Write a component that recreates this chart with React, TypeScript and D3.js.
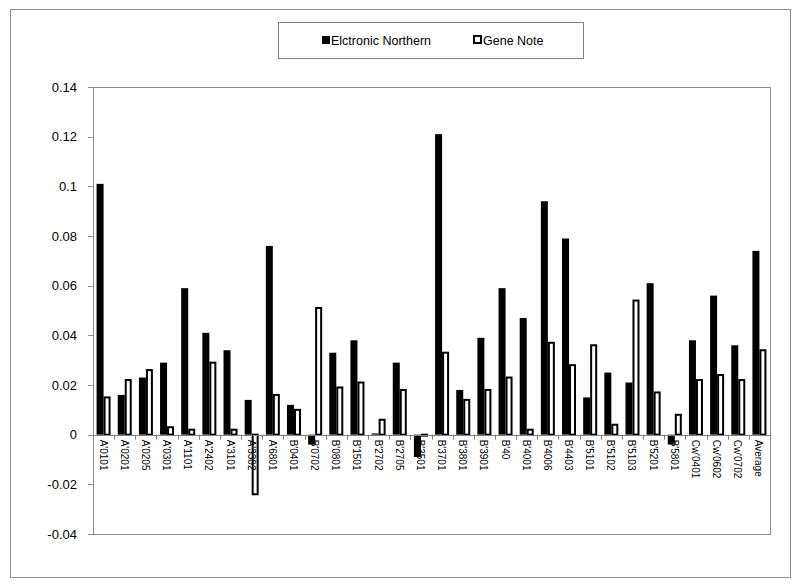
import React from 'react';
import * as d3 from 'd3';

// categories and values
const alleles = [
  "A'0101", "A'0201", "A'0205", "A'0301", "A'1101", "A'2402", "A'3101", "A'3302",
  "A'6801", "B'0401", "B'0702", "B'0801", "B'1501", "B'2702", "B'2705", "B'3501",
  "B'3701", "B'3801", "B'3901", "B'40", "B'4001", "B'4006", "B'4403", "B'5101",
  "B'5102", "B'5103", "B'5201", "B'5801", "Cw'0401", "Cw'0602", "Cw'0702", "Average",
];
const electronicNorthern = [
  0.101, 0.016, 0.023, 0.029, 0.059, 0.041, 0.034, 0.014,
  0.076, 0.012, -0.004, 0.033, 0.038, 0.0005, 0.029, -0.009,
  0.121, 0.018, 0.039, 0.059, 0.047, 0.094, 0.079, 0.015,
  0.025, 0.021, 0.061, -0.004, 0.038, 0.056, 0.036, 0.074,
];
const geneNote = [
  0.015, 0.022, 0.026, 0.003, 0.002, 0.029, 0.002, -0.024,
  0.016, 0.010, 0.051, 0.019, 0.021, 0.006, 0.018, -0.0004,
  0.033, 0.014, 0.018, 0.023, 0.002, 0.037, 0.028, 0.036,
  0.004, 0.054, 0.017, 0.008, 0.022, 0.024, 0.022, 0.034,
];
const yTicks = [-0.04, -0.02, 0, 0.02, 0.04, 0.06, 0.08, 0.1, 0.12, 0.14];

const font = 'Liberation Sans, Arial, sans-serif';

const App = () => {
  const plot = { left: 93, right: 770, top: 87, bottom: 534 };

  const x = d3.scaleBand<string>()
    .domain(alleles)
    .range([plot.left, plot.right]);
  const y = d3.scaleLinear()
    .domain([-0.04, 0.14])
    .range([plot.bottom, plot.top]);

  const bw = 7;
  const y0 = y(0);

  return (
    <svg width={800} height={585} style={{ position: 'absolute', left: 0, top: 0, background: '#fff' }}>
      {/* outer frame */}
      <rect x={10.5} y={9.5} width={780} height={568} fill="#fff" stroke="#8c8c8c" />

      {/* legend */}
      <rect x={278.5} y={22.5} width={305} height={36} fill="#fff" stroke="#7f7f7f" />
      <rect x={322} y={36} width={8} height={8} fill="#000" />
      <text x={331} y={44.5} fontFamily={font} fontSize={12.5}>Elctronic Northern</text>
      <rect x={474} y={36} width={7} height={7} fill="#fff" stroke="#000" strokeWidth={2} />
      <text x={483} y={44.5} fontFamily={font} fontSize={12.5}>Gene Note</text>

      {/* plot area */}
      <rect x={plot.left + 0.5} y={plot.top + 0.5} width={plot.right - plot.left} height={plot.bottom - plot.top}
        fill="none" stroke="#8c8c8c" />

      {/* y ticks */}
      {yTicks.map(t => (
        <g key={t}>
          <line x1={plot.left - 5} x2={plot.left} y1={Math.round(y(t)) + 0.5} y2={Math.round(y(t)) + 0.5} stroke="#8c8c8c" />
          <text x={plot.left - 16} y={y(t) + 4.5} textAnchor="end" fontFamily={font} fontSize={13}>
            {String(+t.toFixed(2))}
          </text>
        </g>
      ))}

      {/* bars */}
      {alleles.map((a, i) => {
        const cx = x(a)! + x.bandwidth() / 2;
        const en = electronicNorthern[i];
        const gn = geneNote[i];
        return (
          <g key={a}>
            <rect x={cx - bw} y={Math.min(y(en), y0)} width={bw} height={Math.abs(y(en) - y0)} fill="#000" />
            <rect x={cx + 1} y={Math.min(y(gn), y0)} width={bw - 2} height={Math.max(Math.abs(y(gn) - y0), 0.5)}
              fill="#fff" stroke="#000" strokeWidth={2} />
          </g>
        );
      })}

      {/* zero axis with category ticks */}
      <line x1={plot.left} x2={plot.right} y1={Math.round(y0) + 0.5} y2={Math.round(y0) + 0.5} stroke="#7f7f7f" />
      {alleles.map(a => (
        <line key={'t' + a} x1={Math.round(x(a)!) + 0.5} x2={Math.round(x(a)!) + 0.5}
          y1={y0} y2={y0 + 5} stroke="#7f7f7f" />
      ))}
      <line x1={plot.right + 0.5} x2={plot.right + 0.5} y1={y0} y2={y0 + 5} stroke="#7f7f7f" />

      {/* category labels */}
      {alleles.map(a => {
        const cx = x(a)! + x.bandwidth() / 2;
        return (
          <text key={'l' + a} transform={`translate(${cx - 4},${y0 + 5}) rotate(90)`}
            fontFamily={font} fontSize={10}>{a}</text>
        );
      })}
    </svg>
  );
};

export default App;
